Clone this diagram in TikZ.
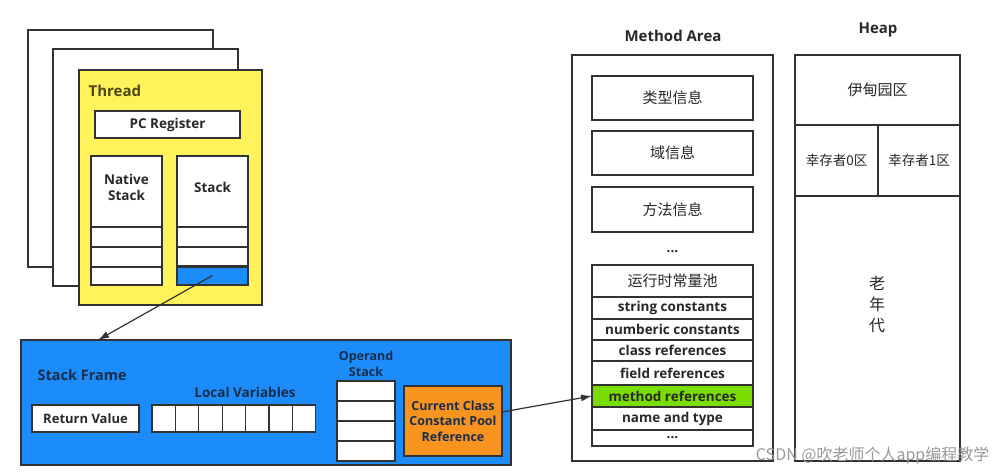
\documentclass[tikz,border=0pt]{standalone}
\usepackage{fontspec}
\setmainfont{Open Sans}
\newfontfamily\cjk{Noto Sans CJK SC}
\usetikzlibrary{arrows.meta}

\definecolor{linegray}{RGB}{50,50,50}
\definecolor{textgray}{RGB}{40,40,40}
\definecolor{threadyellow}{RGB}{255,242,90}
\definecolor{threadtext}{RGB}{80,70,20}
\definecolor{frameblue}{RGB}{28,140,250}
\definecolor{frametext}{RGB}{25,45,75}
\definecolor{refgreen}{RGB}{122,222,0}
\definecolor{poolorange}{RGB}{247,148,32}

\begin{document}
\begin{tikzpicture}[%
        x = 1pt, y = -1pt,
        > = {Latex[length = 11pt, width = 7pt]},
        line width = 1.2pt,
        box/.style = {draw = linegray, fill = white, inner sep = 0pt,
            outer sep = 0pt, anchor = north west, align = center,
            text = textgray, font = \bfseries\fontsize{13.5}{16}\selectfont},
        label/.style = {inner sep = 0pt, align = center, text = textgray,
            font = \bfseries\fontsize{13.5}{16}\selectfont},
        title/.style = {label, font = \bfseries\fontsize{15}{17}\selectfont},
        cjkbox/.style = {box, font = \cjk\fontsize{15}{17}\selectfont}
    ]

        \useasboundingbox (0,0) rectangle (1007,476);

        % Threads stacked behind each other.
        \node[box, minimum width = 185, minimum height = 237] (page1) at (28,30) {};
        \node[box, minimum width = 185, minimum height = 237] (page2) at (53,49) {};
        \node[box, fill = threadyellow, minimum width = 183, minimum height = 235] (thread) at (79,70) {};
        \node[title, anchor = west, text = threadtext] (threadlabel) at (88,91) {Thread};

        \node[box, minimum width = 145, minimum height = 27] (pc) at (95,111) {PC Register};

        % Native stack and Java stack columns.
        \node[box, minimum width = 71, minimum height = 129] (native) at (91,156) {};
        \node[label] (nativelabel) at (126.5,187) {Native\\Stack};
        \node[box, minimum width = 71, minimum height = 129] (stack) at (177,156) {};
        \node[label] (stacklabel) at (212.5,187) {Stack};
        \node[box, fill = frameblue, minimum width = 71, minimum height = 19] (stackcell) at (177,266) {};
        \foreach \y in {227,247,267} {
            \draw[linegray] (91,\y) -- (162,\y);
            \draw[linegray] (177,\y) -- (248,\y);
        }

        % Stack frame.
        \node[box, fill = frameblue, minimum width = 490, minimum height = 125] (frame) at (21,340) {};
        \coordinate (frametop) at (98,340);
        \node[title, anchor = west, text = frametext, font = \bfseries\fontsize{14.5}{17}\selectfont] (framelabel) at (37,375) {Stack Frame};

        \node[box, minimum width = 107, minimum height = 27, font = \bfseries\fontsize{13}{15}\selectfont] (retval) at (32,405) {Return Value};

        \node[label, text = frametext] (locallabel) at (245,392) {Local Variables};
        \foreach \i in {0,...,6}
            \node[box, minimum width = 23.4, minimum height = 27] (lv\i) at (152+\i*23.4,405) {};

        \node[label, text = frametext, font = \bfseries\fontsize{12.5}{15.5}\selectfont] (operandlabel) at (366,364) {Operand\\Stack};
        \foreach \i in {0,...,3}
            \node[box, minimum width = 58, minimum height = 20] (op\i) at (337,381+\i*20) {};

        \node[box, fill = poolorange, minimum width = 98, minimum height = 70, text = frametext,
            font = \bfseries\fontsize{12.5}{15.5}\selectfont] (ccref) at (404,386) {Current Class\\Constant Pool\\Reference};

        % Method area.
        \node[title] (methodlabel) at (673,36) {Method Area};
        \node[box, minimum width = 201, minimum height = 406] (methodarea) at (572,55) {};
        \node[cjkbox, minimum width = 161, minimum height = 44] (typeinfo) at (592,76) {类型信息};
        \node[cjkbox, minimum width = 161, minimum height = 44] (fieldinfo) at (592,131) {域信息};
        \node[cjkbox, minimum width = 161, minimum height = 45] (methodinfo) at (592,187) {方法信息};
        \node[label] (dots) at (672.5,252) {...};

        \node[cjkbox, minimum width = 161, minimum height = 32] (pool) at (592,265) {运行时常量池};
        \node[box, minimum width = 161, minimum height = 22] (strconst) at (592,297) {string constants};
        \node[box, minimum width = 161, minimum height = 21] (numconst) at (592,319) {numberic constants};
        \node[box, minimum width = 161, minimum height = 21] (classref) at (592,340) {class references};
        \node[box, minimum width = 161, minimum height = 24] (fieldref) at (592,361) {field references};
        \node[box, fill = refgreen, minimum width = 161, minimum height = 22] (methodref) at (592,385) {method references};
        \node[box, minimum width = 161, minimum height = 23] (nametype) at (592,407) {name and type};
        \node[box, minimum width = 161, minimum height = 16] (pooldots) at (592,430) {...};

        % Heap.
        \node[title] (heaplabel) at (878,30) {Heap};
        \node[box, minimum width = 165, minimum height = 406] (heap) at (795,55) {};
        \node[cjkbox, minimum width = 165, minimum height = 70] (eden) at (795,55) {伊甸园区};
        \node[cjkbox, minimum width = 83, minimum height = 71, font = \cjk\fontsize{13.5}{15}\selectfont] (survivor0) at (795,125) {幸存者0区};
        \node[cjkbox, minimum width = 82, minimum height = 71, font = \cjk\fontsize{13.5}{15}\selectfont] (survivor1) at (878,125) {幸存者1区};
        \node[label, font = \cjk\fontsize{16}{21}\selectfont] (oldgen) at (877,304) {老\\年\\代};

        % Arrows.
        \draw[->, linegray] (stackcell.center) -- (frametop);
        \draw[->, linegray] ([yshift = 9pt]ccref.east) -- (methodref.west);

        \node[anchor = east, inner sep = 0pt, text = black!40, font = \cjk\fontsize{16}{18}\selectfont] (watermark) at (990,456) {CSDN @吹老师个人app编程教学};
    \end{tikzpicture}
\end{document}
